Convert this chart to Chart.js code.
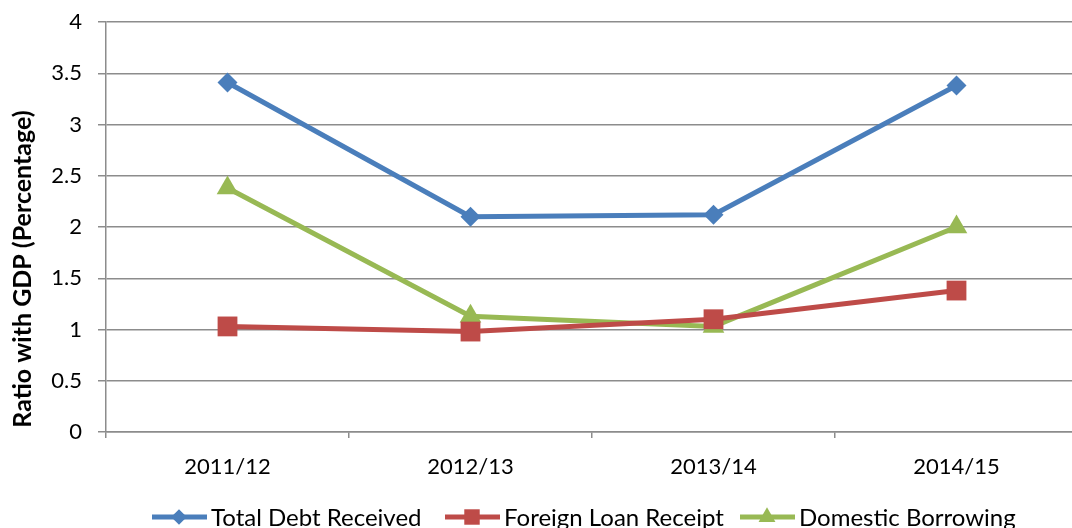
<!DOCTYPE html>
<html><head><meta charset="utf-8">
<script src="https://cdn.jsdelivr.net/npm/chart.js@4/dist/chart.umd.min.js"></script>
<style>html,body{margin:0;padding:0;background:#fff;overflow:hidden;width:1072px;height:528px}#wrap{width:1092px;height:528px;position:relative}</style>
</head><body><div id="wrap"><canvas id="c" width="1092" height="528"></canvas></div>
<script>
const categories = ['2011/12', '2012/13', '2013/14', '2014/15'];
const totalDebt = [3.41, 2.10, 2.12, 3.38];
const foreignLoan = [1.03, 0.98, 1.10, 1.38];
const domesticBorrowing = [2.38, 1.13, 1.03, 2.00];
const seriesNames = ['Total Debt Received', 'Foreign Loan Receipt', 'Domestic Borrowing'];
const yTitle = 'Ratio with GDP (Percentage)';

const FONT = 'Lato, "Open Sans", sans-serif';
const colors = ['#4a7ebb', '#be4b48', '#98b954'];
const styles = ['rectRot', 'rect', 'triangle'];
const radii = [10, 14, 12.5];

const legendPlugin = {
  id: 'customLegend',
  afterDraw(chart) {
    const ctx = chart.ctx;
    const y = 517;
    const starts = [152, 445, 740];
    ctx.save();
    chart.data.datasets.forEach((ds, i) => {
      const x0 = starts[i];
      ctx.strokeStyle = ds.borderColor;
      ctx.lineWidth = 5;
      ctx.beginPath(); ctx.moveTo(x0, y); ctx.lineTo(x0 + 55, y); ctx.stroke();
      ctx.fillStyle = ds.backgroundColor;
      Chart.helpers.drawPoint(ctx, {pointStyle: ds.pointStyle, radius: ds.pointRadius * 0.78, borderWidth: 0}, x0 + 27, y);
      ctx.fillStyle = '#000';
      ctx.font = '24px ' + FONT;
      ctx.textBaseline = 'middle';
      ctx.textAlign = 'left';
      ctx.fillText(ds.label, x0 + 59, y + 1);
    });
    // y axis title
    ctx.translate(22.5, 269);
    ctx.rotate(-Math.PI / 2);
    ctx.font = 'bold 25px ' + FONT;
    ctx.textAlign = 'center';
    ctx.textBaseline = 'middle';
    ctx.fillStyle = '#000';
    ctx.fillText(yTitle, 0, 0);
    ctx.restore();
  }
};

const seriesData = [totalDebt, foreignLoan, domesticBorrowing];
new Chart(document.getElementById('c'), {
  type: 'line',
  data: {
    labels: categories,
    datasets: seriesData.map((d, i) => ({
      label: seriesNames[i],
      data: d,
      borderColor: colors[i],
      backgroundColor: colors[i],
      borderWidth: 5,
      pointStyle: styles[i],
      pointRadius: radii[i],
      pointBorderWidth: 0,
      pointBackgroundColor: colors[i],
      tension: 0
    }))
  },
  plugins: [legendPlugin],
  options: {
    responsive: false,
    animation: false,
    events: [],
    layout: {padding: {top: 22, right: 0, left: 0, bottom: 0}},
    plugins: {legend: {display: false}, tooltip: {enabled: false}},
    scales: {
      x: {
        offset: true,
        grid: {offset: true, drawOnChartArea: false, color: '#8c8c8c', lineWidth: 1.5, tickLength: 6, tickColor: '#8c8c8c'},
        border: {color: '#8c8c8c', width: 1.5},
        ticks: {color: '#000', font: {family: FONT, size: 22}, padding: 16, maxRotation: 0},
        afterFit: s => { s.height = 96; s.paddingLeft = 0; s.paddingRight = 0; }
      },
      y: {
        min: 0, max: 4,
        grid: {color: '#8c8c8c', lineWidth: 1.5, tickLength: 8, tickColor: '#8c8c8c'},
        border: {color: '#8c8c8c', width: 1.5},
        ticks: {stepSize: 0.5, color: '#000', font: {family: FONT, size: 22}, padding: 16,
                callback: v => String(Math.round(v * 10) / 10)},
        afterFit: s => { s.width = 106; s.paddingTop = 0; s.paddingBottom = 0; }
      }
    }
  }
});
</script></body></html>
